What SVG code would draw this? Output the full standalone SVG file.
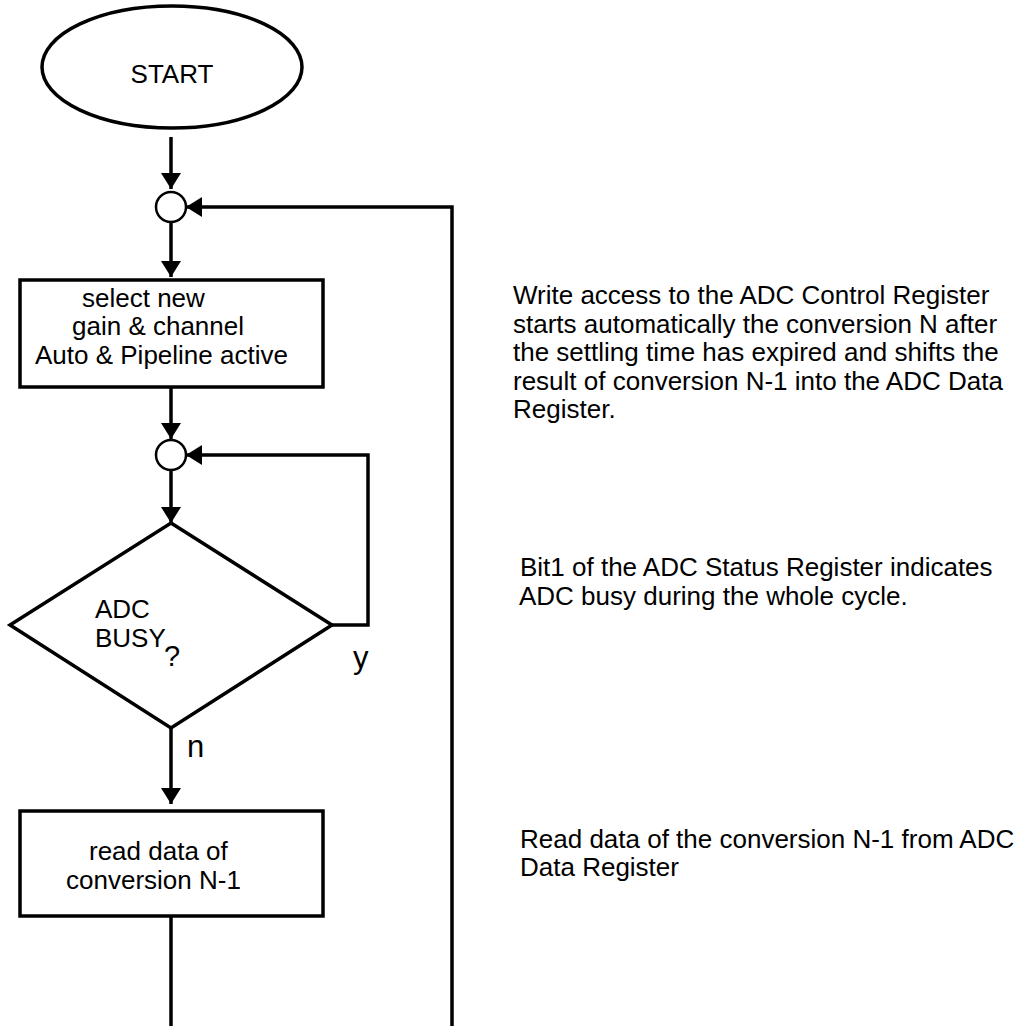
<svg xmlns="http://www.w3.org/2000/svg" width="1032" height="1026" viewBox="0 0 1032 1026">
<style>
.shape{fill:#fff;stroke:#000;stroke-width:3.5}
.junc{fill:#fff;stroke:#000;stroke-width:2.5}
.conn{fill:none;stroke:#000;stroke-width:3.5}
text{font-family:"Liberation Sans",Arial,sans-serif;font-size:26px;fill:#000}
.big{font-size:31px}
.q{font-size:29px}
</style>
<defs>
<marker id="ah" markerUnits="userSpaceOnUse" markerWidth="17" markerHeight="21" refX="16" refY="10" orient="auto" viewBox="0 0 17 21">
<path d="M0,0 L16,10 L0,20 z" fill="#000"/>
</marker>
</defs>
<rect width="1032" height="1026" fill="#fff"/>
<g id="connectors">
<path class="conn" d="M171,137 L171,189" marker-end="url(#ah)"/>
<path class="conn" d="M171,222 L171,277" marker-end="url(#ah)"/>
<path class="conn" d="M452,1026 L452,207 L186,207" marker-end="url(#ah)"/>
<path class="conn" d="M171,387 L171,439" marker-end="url(#ah)"/>
<path class="conn" d="M171,470 L171,523" marker-end="url(#ah)"/>
<path class="conn" d="M332,625 L368,625 L368,455 L186,455" marker-end="url(#ah)"/>
<path class="conn" d="M171,728 L171,804" marker-end="url(#ah)"/>
<path class="conn" d="M171,916 L171,1026"/>
<text class="big" x="353" y="668">y</text>
<text class="big" x="187" y="757">n</text>
</g>
<g id="start">
<ellipse class="shape" cx="172" cy="67" rx="130" ry="61"/>
<text x="172" y="83" text-anchor="middle">START</text>
</g>
<g id="junction1"><circle class="junc" cx="171" cy="207" r="15"/></g>
<g id="select">
<rect class="shape" x="20" y="280" width="303" height="107"/>
<text x="82" y="307">select new</text>
<text x="72" y="335">gain &amp; channel</text>
<text x="35" y="364">Auto &amp; Pipeline active</text>
</g>
<g id="junction2"><circle class="junc" cx="171" cy="455" r="15"/></g>
<g id="busy">
<polygon class="shape" points="171,523 332,625 171,728 10,625"/>
<text x="95" y="618">ADC</text>
<text x="95" y="647">BUSY</text>
<text class="q" x="164" y="666">?</text>
</g>
<g id="read">
<rect class="shape" x="20" y="811" width="303" height="105"/>
<text x="89" y="860">read data of</text>
<text x="66" y="889">conversion N-1</text>
</g>
<g id="note1">
<text x="513" y="304">Write access to the ADC Control Register</text>
<text x="513" y="333">starts automatically the conversion N after</text>
<text x="513" y="361">the settling time has expired and shifts the</text>
<text x="513" y="390">result of conversion N-1 into the ADC Data</text>
<text x="513" y="418">Register.</text>
</g>
<g id="note2">
<text x="520" y="576">Bit1 of the ADC Status Register indicates</text>
<text x="519" y="605">ADC busy during the whole cycle.</text>
</g>
<g id="note3">
<text x="520" y="848">Read data of the conversion N-1 from ADC</text>
<text x="520" y="876">Data Register</text>
</g>
</svg>
